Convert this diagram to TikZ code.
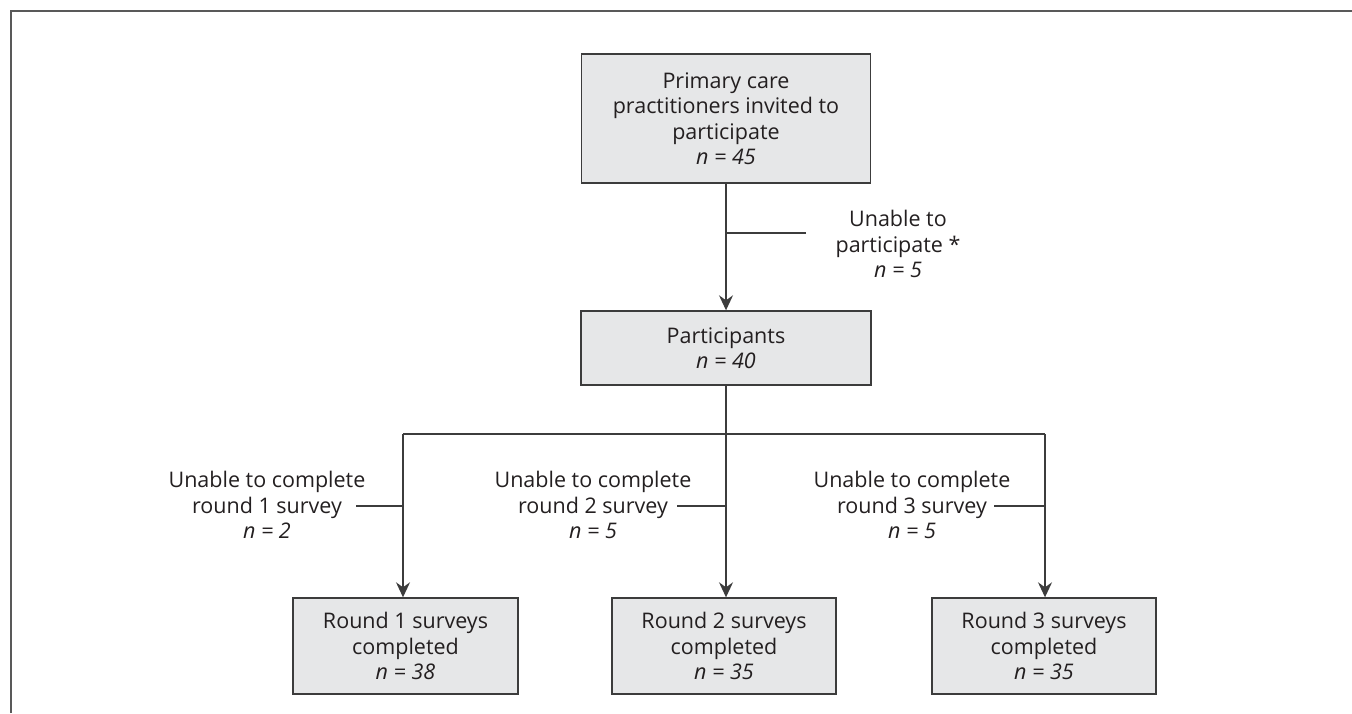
\documentclass[tikz,border=0pt]{standalone}
\usepackage{fontspec}
\setmainfont{Open Sans}
\usetikzlibrary{arrows.meta}
\definecolor{boxfill}{HTML}{E6E7E8}
\definecolor{linec}{HTML}{3C3C3C}
\definecolor{txt}{HTML}{231F20}
\begin{document}
\begin{tikzpicture}[x=1pt,y=-1pt,
  box/.style={draw=linec, line width=1.4pt, fill=boxfill, align=center, inner sep=0pt,
    font=\fontsize{21.5}{25.5}\selectfont, text=txt},
  lbl/.style={align=center, inner sep=0pt, font=\fontsize{21.5}{25.5}\selectfont, text=txt},
  conn/.style={draw=linec, line width=1.4pt},
  arr/.style={conn, -{Stealth[length=15pt,width=14pt,inset=5pt]}}]
\useasboundingbox (0,0) rectangle (1352,713);
\draw[draw=linec!85, line width=2pt] (11,713) -- (11,10.5) -- (1352,10.5);

\node[box, minimum width=289, minimum height=129] (top) at (726,118.5)
  {Primary care\\practitioners invited to\\participate\\\textit{n = 45}};
\node[box, minimum width=290, minimum height=74] (part) at (726,348)
  {Participants\\\textit{n = 40}};
\node[box, minimum width=225, minimum height=96] (r1) at (405.5,646)
  {Round 1 surveys\\completed\\\textit{n = 38}};
\node[box, minimum width=224, minimum height=96] (r2) at (724,646)
  {Round 2 surveys\\completed\\\textit{n = 35}};
\node[box, minimum width=224, minimum height=96] (r3) at (1044,646)
  {Round 3 surveys\\completed\\\textit{n = 35}};

\node[lbl] (l0) at (898,244) {Unable to\\participate *\\\textit{n = 5}};
\node[lbl] (l1) at (267,505) {Unable to complete\\round 1 survey\\\textit{n = 2}};
\node[lbl] (l2) at (593,505) {Unable to complete\\round 2 survey\\\textit{n = 5}};
\node[lbl] (l3) at (912,505) {Unable to complete\\round 3 survey\\\textit{n = 5}};

% main flow
\draw[arr] (top.south) -- (part.north);
\coordinate (k0) at (806,233);
\draw[conn] (k0) -- (k0 -| top.south);

\coordinate (bl) at (403,434);
\coordinate (br) at (1045,434);
\draw[conn] (part.south) -- (part.south |- bl);
\draw[conn] (bl) -- (br);
\draw[arr] (bl) -- (bl |- r1.north);
\draw[arr] (part.south |- bl) -- (part.south |- r2.north);
\draw[arr] (br) -- (br |- r3.north);

\coordinate (k1) at (356,506);
\coordinate (k2) at (677,506);
\coordinate (k3) at (994,506);
\draw[conn] (k1) -- (k1 -| bl);
\draw[conn] (k2) -- (k2 -| part.south);
\draw[conn] (k3) -- (k3 -| br);
\end{tikzpicture}
\end{document}
